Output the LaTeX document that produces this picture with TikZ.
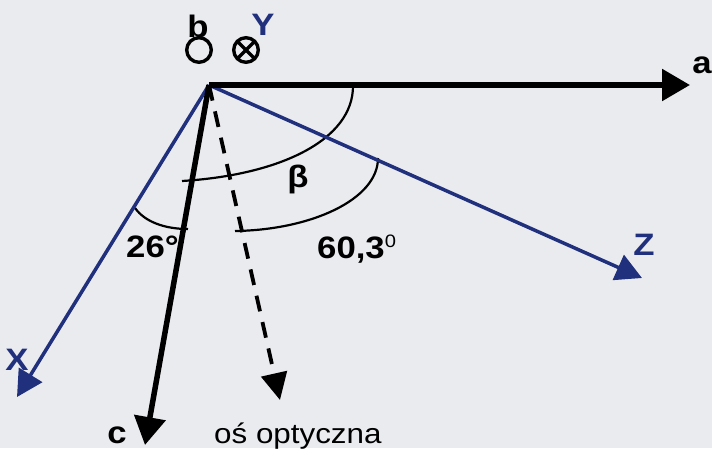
\documentclass[tikz,border=0pt]{standalone}
\usepackage{fontspec}
\setmainfont{Liberation Sans}[FakeStretch=1.12]
\usetikzlibrary{arrows.meta}
\definecolor{axblue}{RGB}{32,48,125}
\definecolor{bgc}{RGB}{234,235,239}
\begin{document}
\begin{tikzpicture}[x=1pt,y=-1pt,
  lab/.style={font=\fontsize{31}{31}\selectfont\bfseries, inner sep=0pt, anchor=base},
  bluelab/.style={lab, text=axblue},
  blackaxis/.style={line width=5.5pt, -{Triangle[length=28pt,width=31pt]}},
  blueaxis/.style={line width=3.5pt, draw=axblue, -{Triangle[length=26pt,width=27pt]}, color=axblue},
  optaxis/.style={line width=3.8pt, dash pattern=on 16pt off 11pt, -{Triangle[length=27pt,width=26pt]}},
  anglearc/.style={line width=2.2pt},
  symb/.style={line width=3.4pt}]
\fill[bgc] (0,0) rectangle (712,448);
\useasboundingbox (0,0) rectangle (712,448);
\coordinate (O) at (209,85);
\coordinate (A) at (690,85);
\coordinate (Zt) at (642,278);
\coordinate (Xt) at (17,397);
\coordinate (Ct) at (145,445);
\coordinate (Pt) at (280,400);
% angle arcs
\draw[anglearc] (353,86) .. controls (353,140) and (280,175) .. (182,181);
\draw[anglearc] (378,158) .. controls (378,200) and (310,230) .. (235,231);
\draw[anglearc] (135,208) .. controls (145,222) and (165,229) .. (188,229);
% axes
\draw[blueaxis] (O) -- (Zt);
\draw[blueaxis] (O) -- (Xt);
\draw[blackaxis] (O) -- (A);
\draw[blackaxis] (O) -- (Ct);
\draw[optaxis] (O) -- (Pt);
% b and Y symbols
\draw[symb] (199,50) circle[radius=12.3];
\draw[symb] (246,50) circle[radius=12.3];
\draw[symb] (237.3,41.3) -- (254.7,58.7);
\draw[symb] (237.3,58.7) -- (254.7,41.3);
% labels
\node[lab] (lb) at (198,37) {b};
\node[bluelab] (lY) at (263,35) {Y};
\node[lab] (la) at (702,73) {a};
\node[bluelab] (lZ) at (644,255) {Z};
\node[bluelab] (lX) at (17,370) {X};
\node[lab] (lc) at (117,443) {c};
\node[lab] (lbeta) at (298,187) {β};
\node[lab, anchor=base west] (l26) at (126,257) {26°};
\node[lab, anchor=base west] (l60) at (317,258) {60,3\raisebox{11pt}{\fontsize{18}{18}\selectfont\mdseries 0}};
\node[inner sep=0pt, anchor=base west, font=\fontsize{28}{28}\selectfont] (lopt) at (214,443) {oś optyczna};
\end{tikzpicture}
\end{document}
